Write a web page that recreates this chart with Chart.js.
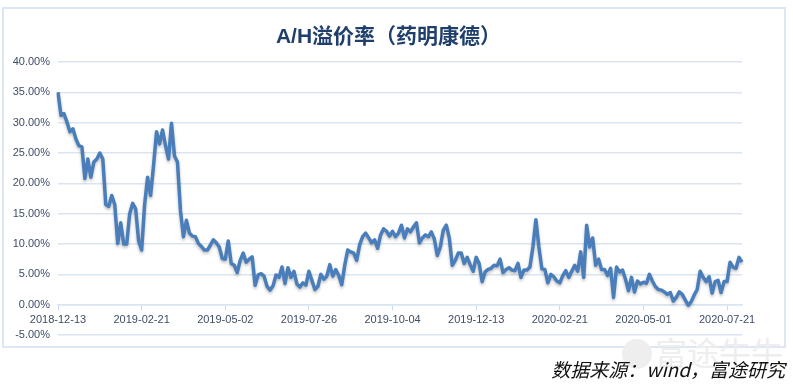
<!DOCTYPE html>
<html>
<head>
<meta charset="utf-8">
<script src="https://cdn.jsdelivr.net/npm/chart.js@4/dist/chart.umd.min.js"></script>
<style>
  html, body { margin: 0; padding: 0; background: #fff; }
  #wrap { position: relative; width: 793px; height: 385px; overflow: hidden; }
  #frame { position: absolute; left: 2px; top: 7px; width: 780px; height: 337px; border: 2px solid #dde7f3; }
  #chart { position: absolute; left: 0; top: 0; }
  #title { position: absolute; left: 0; width: 777px; top: 19px; text-align: center;
    font: bold 21px "Liberation Sans", "Noto Sans CJK SC", sans-serif; color: #203f6c; }
  #mark { position: absolute; left: 622px; top: 328px; font: 32px "Noto Sans CJK SC", sans-serif; color: #eeeeee; }
  #mark span { display: inline-block; width: 30px; height: 30px; border-radius: 50%; background: #eeeeee; vertical-align: -4px; margin-right: 3px; }
  #source { position: absolute; right: 8px; top: 355px; font: italic 19px "Noto Sans CJK SC", sans-serif; color: #111; }
</style>
</head>
<body>
<div id="wrap">
  <div id="frame"></div>
  <div id="mark"><span></span>富途牛牛</div>
  <canvas id="chart" width="793" height="385"></canvas>
  <div id="title">A/H溢价率（药明康德）</div>
  <div id="source">数据来源：wind，富途研究</div>
</div>
<script>
const tickLabels = ["2018-12-13", "2019-02-21", "2019-05-02", "2019-07-26", "2019-10-04",
  "2019-12-13", "2020-02-21", "2020-05-01", "2020-07-21"];
const tickStep = 28;

// A/H premium, % (one point per ~1/28 of a tick interval)
const premium = [
  35.0, 31.2, 31.5, 30.1, 28.5, 29.0, 27.3, 26.2, 26.0, 20.8,
  24.0, 21.0, 23.5, 24.0, 25.0, 24.0, 16.5, 16.2, 18.0, 16.5,
  10.1, 13.5, 10.0, 10.0, 15.0, 16.7, 15.8, 10.5, 9.0, 16.5,
  21.0, 18.0, 23.0, 28.5, 26.5, 28.8, 26.2, 24.0, 29.9, 24.5,
  23.5, 15.5, 11.2, 13.9, 11.8, 11.3, 11.2, 10.1, 9.6, 9.0,
  9.0, 9.8, 10.7, 10.2, 9.5, 7.6, 7.5, 10.5, 6.8, 6.5,
  5.3, 7.3, 8.5, 7.0, 7.5, 7.9, 3.2, 4.9, 5.1, 4.7,
  3.0, 2.4, 3.1, 4.9, 4.5, 6.2, 3.5, 6.1, 4.5, 5.5,
  3.4, 2.9, 3.6, 3.2, 5.5, 4.0, 2.5, 3.0, 5.0, 4.2,
  4.7, 6.6, 4.7, 5.8, 4.8, 3.3, 6.5, 9.0, 8.7, 8.5,
  7.3, 9.9, 11.2, 11.8, 11.0, 10.2, 10.7, 9.3, 11.5, 12.5,
  12.1, 11.3, 12.1, 11.2, 11.8, 13.1, 11.0, 12.5, 12.0, 12.8,
  13.5, 10.2, 11.0, 11.5, 11.2, 12.0, 10.8, 8.1, 9.5, 12.3,
  13.1, 11.0, 6.5, 7.3, 8.5, 8.5, 6.8, 7.8, 6.6, 5.5,
  7.8, 6.8, 3.8, 5.4, 5.8, 6.0, 6.5, 6.4, 7.5, 5.3,
  5.8, 6.1, 5.7, 5.6, 6.8, 4.5, 5.7, 5.7, 6.2, 9.5,
  14.0, 9.5, 5.9, 5.8, 3.6, 5.0, 4.6, 3.9, 3.6, 4.8,
  5.6, 4.5, 5.5, 6.5, 5.5, 8.7, 4.5, 13.1, 9.5, 11.0,
  6.5, 7.5, 5.8, 5.8, 4.8, 6.0, 1.2, 6.2, 5.4, 5.7,
  4.2, 2.3, 4.5, 2.1, 3.9, 3.4, 3.7, 3.5, 5.0, 3.9,
  3.0, 2.5, 2.4, 2.1, 1.7, 2.0, 0.6, 1.2, 2.1, 1.7,
  0.8, -0.1, 0.5, 1.6, 2.5, 5.5, 4.5, 3.8, 4.6, 1.9,
  3.8, 4.0, 2.0, 3.8, 3.8, 7.0, 6.2, 6.0, 7.8, 7.0
];

const yMin = -5, yMax = 40, yStep = 5;

const categories = premium.map(function (v, i) {
  return i % tickStep === 0 ? tickLabels[i / tickStep] : "";
});

const textColor = "#3f4d66";
const gridColor = "#dae5f2";

const lineShadow = {
  id: "lineShadow",
  beforeDatasetsDraw(chart) {
    const ctx = chart.ctx;
    ctx.save();
    ctx.shadowColor = "rgba(0,0,0,0.25)";
    ctx.shadowBlur = 3;
    ctx.shadowOffsetY = 2;
  },
  afterDatasetsDraw(chart) {
    chart.ctx.restore();
  }
};

new Chart(document.getElementById("chart").getContext("2d"), {
  type: "line",
  data: {
    labels: categories,
    datasets: [{
      data: premium,
      borderColor: "#4a7ebb",
      borderWidth: 3.5,
      borderJoinStyle: "round",
      pointRadius: 0,
      tension: 0,
      fill: false
    }]
  },
  options: {
    responsive: false,
    animation: false,
    layout: { padding: { left: 0, right: 51, top: 62, bottom: 50 } },
    plugins: {
      legend: { display: false },
      tooltip: { enabled: false },
      title: { display: false }
    },
    scales: {
      x: {
        position: { y: 0 },
        offset: false,
        afterBuildTicks: function (axis) {
          axis.ticks = axis.ticks.filter(function (t) { return t.value % tickStep === 0; });
        },
        ticks: {
          autoSkip: false,
          maxRotation: 0,
          padding: 4,
          color: textColor,
          font: { family: "'Liberation Sans', sans-serif", size: 11 },
          callback: function (v) { return categories[v]; }
        },
        grid: { drawOnChartArea: false, drawTicks: true, tickLength: 5, color: "#cfdcec" },
        border: { display: true, color: gridColor, width: 1.5 }
      },
      y: {
        min: yMin,
        max: yMax,
        afterFit: function (scale) { scale.width = 58; },
        ticks: {
          stepSize: yStep,
          padding: 8,
          color: textColor,
          font: { family: "'Liberation Sans', sans-serif", size: 11 },
          callback: function (v) { return v.toFixed(2) + "%"; }
        },
        grid: { color: gridColor, lineWidth: 1.5, drawTicks: false },
        border: { display: false }
      }
    }
  },
  plugins: [lineShadow]
});
</script>
</body>
</html>
